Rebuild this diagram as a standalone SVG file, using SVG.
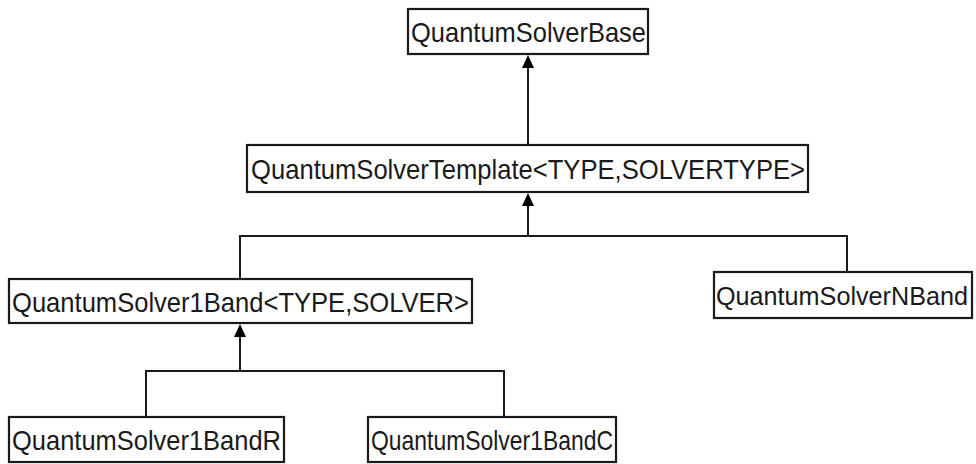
<svg xmlns="http://www.w3.org/2000/svg" width="976" height="464" viewBox="0 0 976 464">
<defs>
<style>
.box{fill:#fff;stroke:#1a1a1a;stroke-width:2.2}
.lbl{font-family:"Liberation Sans",Arial,sans-serif;font-size:28px;fill:#1a1a1a}
.con{fill:none;stroke:#1a1a1a;stroke-width:2}
.ah{fill:#000}
</style>
</defs>
<rect width="976" height="464" fill="#fff"/>
<g id="connectors">
<path class="con" d="M528,145 V66"/>
<polygon class="ah" points="528,55 522,68 534,68"/>
<path class="con" d="M528,236 V204 M240,279 V236 H847 V272"/>
<polygon class="ah" points="528,193 522,206 534,206"/>
<path class="con" d="M240,371 V335 M146,417 V371 H504 V417"/>
<polygon class="ah" points="240,324 234,337 246,337"/>
</g>
<g id="QuantumSolverBase">
<rect class="box" x="408" y="9" width="240" height="45"/>
<text class="lbl" x="411" y="42" textLength="235" lengthAdjust="spacingAndGlyphs">QuantumSolverBase</text>
</g>
<g id="QuantumSolverTemplate">
<rect class="box" x="247" y="145" width="561" height="47"/>
<text class="lbl" x="251" y="179" textLength="554" lengthAdjust="spacingAndGlyphs">QuantumSolverTemplate&lt;TYPE,SOLVERTYPE&gt;</text>
</g>
<g id="QuantumSolver1Band">
<rect class="box" x="9" y="279" width="463" height="44"/>
<text class="lbl" x="12" y="312" textLength="457" lengthAdjust="spacingAndGlyphs">QuantumSolver1Band&lt;TYPE,SOLVER&gt;</text>
</g>
<g id="QuantumSolverNBand">
<rect class="box" x="714" y="272" width="258" height="46"/>
<text class="lbl" x="716" y="305" style="font-size:25.5px" textLength="252" lengthAdjust="spacingAndGlyphs">QuantumSolverNBand</text>
</g>
<g id="QuantumSolver1BandR">
<rect class="box" x="9" y="417" width="275" height="45"/>
<text class="lbl" x="12" y="450" textLength="269" lengthAdjust="spacingAndGlyphs">QuantumSolver1BandR</text>
</g>
<g id="QuantumSolver1BandC">
<rect class="box" x="368" y="417" width="248" height="45"/>
<text class="lbl" x="371" y="450" textLength="242" lengthAdjust="spacingAndGlyphs">QuantumSolver1BandC</text>
</g>
</svg>
